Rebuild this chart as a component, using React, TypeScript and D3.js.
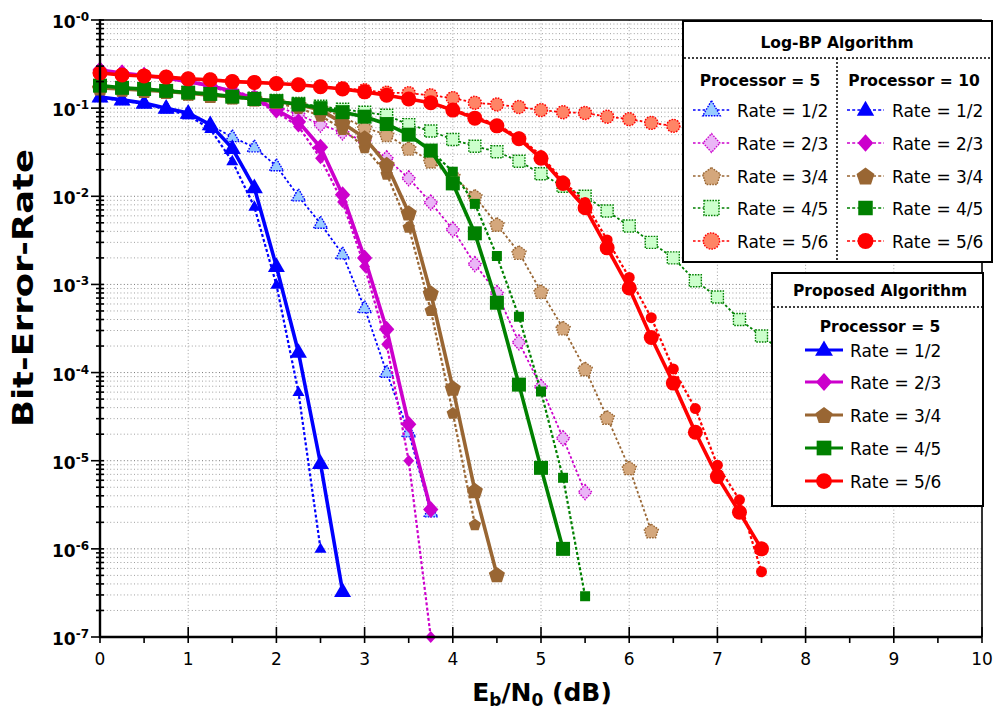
import React from 'react';
import * as d3 from 'd3';

// ---------- data ----------
const snr = [0, 0.25, 0.5, 0.75, 1, 1.25, 1.5, 1.75, 2, 2.25, 2.5, 2.75, 3, 3.25, 3.5, 3.75, 4, 4.25, 4.5, 4.75, 5, 5.25, 5.5, 5.75, 6, 6.25, 6.5, 6.75, 7, 7.25, 7.5, 7.75, 8];
const xTicks = [0, 1, 2, 3, 4, 5, 6, 7, 8, 9, 10];
const yDecades = [0, -1, -2, -3, -4, -5, -6, -7];
const rates = ['1/2', '2/3', '3/4', '4/5', '5/6'];

// Proposed algorithm, processor = 5
const propR12 = [0.134, 0.124, 0.114, 0.1, 0.088, 0.065, 0.035, 0.0125, 1.6e-3, 1.7e-4, 9.3e-6, 3.3e-7];
const propR23 = [0.27, 0.25, 0.235, 0.22, 0.2, 0.18, 0.155, 0.13, 0.095, 0.07, 0.036, 0.0104, 2.0e-3, 3.1e-4, 2.6e-5, 2.8e-6];
const propR34 = [0.17, 0.165, 0.16, 0.155, 0.148, 0.14, 0.135, 0.128, 0.12, 0.11, 0.095, 0.068, 0.046, 0.023, 6.5e-3, 8.0e-4, 6.7e-5, 4.6e-6, 5.1e-7];
const propR45 = [0.18, 0.17, 0.165, 0.157, 0.15, 0.145, 0.135, 0.127, 0.12, 0.11, 0.1, 0.09, 0.08, 0.066, 0.05, 0.033, 0.014, 3.8e-3, 6.2e-4, 7.3e-5, 8.3e-6, 1.0e-6];
const propR56 = [0.25, 0.238, 0.232, 0.225, 0.215, 0.21, 0.2, 0.196, 0.19, 0.184, 0.175, 0.165, 0.153, 0.14, 0.127, 0.115, 0.095, 0.077, 0.063, 0.045, 0.027, 0.014, 7.4e-3, 2.6e-3, 9.1e-4, 2.5e-4, 7.6e-5, 2.1e-5, 6.6e-6, 2.6e-6, 1.0e-6];

// Log-BP, processor = 10
const p10R12 = [0.132, 0.122, 0.112, 0.097, 0.083, 0.058, 0.025, 7.6e-3, 9.9e-4, 6.0e-5, 1.0e-6];
const p10R23 = [0.27, 0.25, 0.235, 0.22, 0.2, 0.175, 0.15, 0.125, 0.09, 0.062, 0.027, 8.6e-3, 1.6e-3, 2.1e-4, 1.0e-5, 1.0e-7];
const p10R34 = [0.17, 0.165, 0.16, 0.155, 0.148, 0.14, 0.133, 0.125, 0.115, 0.1, 0.082, 0.058, 0.036, 0.018, 4.5e-3, 5.1e-4, 3.5e-5, 1.9e-6];
const p10R45 = [0.18, 0.17, 0.165, 0.157, 0.15, 0.145, 0.135, 0.127, 0.12, 0.11, 0.1, 0.09, 0.08, 0.066, 0.05, 0.033, 0.019, 8.2e-3, 2.1e-3, 4.3e-4, 6.1e-5, 6.4e-6, 2.9e-7];
const p10R56 = [0.25, 0.238, 0.232, 0.225, 0.215, 0.21, 0.2, 0.196, 0.19, 0.184, 0.175, 0.165, 0.153, 0.14, 0.127, 0.115, 0.097, 0.08, 0.065, 0.047, 0.029, 0.015, 8.5e-3, 3.2e-3, 1.2e-3, 4.2e-4, 1.1e-4, 3.9e-5, 8.9e-6, 3.6e-6, 5.5e-7];

// Log-BP, processor = 5
const p5R12 = [0.134, 0.124, 0.114, 0.1, 0.086, 0.064, 0.047, 0.036, 0.022, 0.01, 4.9e-3, 2.2e-3, 5.4e-4, 1.0e-4, 2.1e-5, 2.6e-6];
const p5R23 = [0.27, 0.25, 0.235, 0.22, 0.2, 0.18, 0.16, 0.135, 0.105, 0.085, 0.065, 0.053, 0.042, 0.027, 0.016, 8.5e-3, 4.2e-3, 1.7e-3, 8.0e-4, 2.2e-4, 6.9e-5, 1.8e-5, 4.4e-6];
const p5R34 = [0.17, 0.165, 0.16, 0.155, 0.148, 0.14, 0.135, 0.128, 0.12, 0.11, 0.1, 0.08, 0.06, 0.05, 0.035, 0.025, 0.017, 0.01, 4.8e-3, 2.3e-3, 8.3e-4, 3.2e-4, 1.1e-4, 3.1e-5, 8.3e-6, 1.6e-6];
const p5R45 = [0.18, 0.17, 0.165, 0.157, 0.15, 0.145, 0.137, 0.13, 0.122, 0.113, 0.105, 0.097, 0.09, 0.083, 0.065, 0.055, 0.044, 0.037, 0.032, 0.025, 0.018, 0.013, 0.01, 6.8e-3, 4.6e-3, 3.0e-3, 2.0e-3, 1.1e-3, 7.2e-4, 4.0e-4, 2.6e-4, 1.7e-4, 1.1e-4];
const p5R56 = [0.25, 0.238, 0.232, 0.225, 0.215, 0.21, 0.2, 0.196, 0.19, 0.184, 0.175, 0.168, 0.16, 0.15, 0.148, 0.14, 0.13, 0.115, 0.11, 0.103, 0.095, 0.09, 0.088, 0.08, 0.075, 0.068, 0.063, 0.058, 0.054];

const darkColors = ['#0000ff', '#cc00cc', '#996633', '#008000', '#ff0000'];
const lightColors = ['#99ccff', '#eab6f6', '#d4a77c', '#ccffcc', '#ff8466'];
const shapes = ['tri', 'dia', 'pent', 'sq', 'circ'];

// ---------- layout ----------
const W = 993, H = 711;
const X0 = 100, X1 = 982, Y0 = 20, Y1 = 637;
const x = d3.scaleLinear().domain([0, 10]).range([X0, X1]);
const y = d3.scaleLog().domain([1e-7, 1]).range([Y1, Y0]);
const FONT = 'DejaVu Sans, Verdana, sans-serif';

type Style = 'p5' | 'p10' | 'prop';

const sizes: Record<Style, Record<string, number>> = {
  prop: { tri: 17, dia: 8.5, pent: 8.5, sq: 7, circ: 7.5 },
  p10: { tri: 12, dia: 6, pent: 6.5, sq: 5, circ: 5.5 },
  p5: { tri: 14, dia: 7.5, pent: 7.5, sq: 6, circ: 6.5 },
};

function markerPath(shape: string, s: number): string {
  switch (shape) {
    case 'tri': {
      const h = (s * Math.sqrt(3)) / 2;
      return `M0,${-h * 0.62}L${s / 2},${h * 0.38}L${-s / 2},${h * 0.38}Z`;
    }
    case 'dia':
      return `M0,${-s}L${s * 0.9},0L0,${s}L${-s * 0.9},0Z`;
    case 'pent': {
      const pts = d3.range(5).map((k) => {
        const a = -Math.PI / 2 + (k * 2 * Math.PI) / 5;
        return [s * Math.cos(a), s * Math.sin(a) + s * 0.1];
      });
      return 'M' + pts.map((p) => p.join(',')).join('L') + 'Z';
    }
    case 'sq':
      return `M${-s},${-s}h${2 * s}v${2 * s}h${-2 * s}Z`;
    default:
      return `M${s},0A${s},${s} 0 1,1 ${-s},0A${s},${s} 0 1,1 ${s},0Z`;
  }
}

function Marker({ cx, cy, idx, style, scale = 1 }: { cx: number; cy: number; idx: number; style: Style; scale?: number }) {
  const shape = shapes[idx];
  const d = markerPath(shape, sizes[style][shape] * scale);
  if (style === 'p5') {
    return (
      <path d={d} transform={`translate(${cx},${cy})`} fill={lightColors[idx]} stroke={darkColors[idx]}
        strokeWidth={1.4} strokeDasharray="1.6,1.2" />
    );
  }
  return <path d={d} transform={`translate(${cx},${cy})`} fill={darkColors[idx]} stroke="none" />;
}

const lineStyle = (style: Style) =>
  style === 'prop'
    ? { strokeWidth: 3.6, dash: undefined as string | undefined }
    : style === 'p10'
    ? { strokeWidth: 2.2, dash: '3,2.2' }
    : { strokeWidth: 1.8, dash: '2.6,2.2' };

const seriesList: { vals: number[]; idx: number; style: Style }[] = [
  { vals: p5R12, idx: 0, style: 'p5' },
  { vals: p5R23, idx: 1, style: 'p5' },
  { vals: p5R34, idx: 2, style: 'p5' },
  { vals: p5R45, idx: 3, style: 'p5' },
  { vals: p5R56, idx: 4, style: 'p5' },
  { vals: p10R12, idx: 0, style: 'p10' },
  { vals: p10R23, idx: 1, style: 'p10' },
  { vals: p10R34, idx: 2, style: 'p10' },
  { vals: p10R45, idx: 3, style: 'p10' },
  { vals: p10R56, idx: 4, style: 'p10' },
  { vals: propR12, idx: 0, style: 'prop' },
  { vals: propR23, idx: 1, style: 'prop' },
  { vals: propR34, idx: 2, style: 'prop' },
  { vals: propR45, idx: 3, style: 'prop' },
  { vals: propR56, idx: 4, style: 'prop' },
];

const lineGen = d3
  .line<[number, number]>()
  .x((d) => x(d[0]))
  .y((d) => y(d[1]));

function Series({ vals, idx, style }: { vals: number[]; idx: number; style: Style }) {
  const pts: [number, number][] = vals.map((v, i) => [snr[i], v]);
  const ls = lineStyle(style);
  return (
    <g>
      <path d={lineGen(pts) || ''} fill="none" stroke={darkColors[idx]} strokeWidth={ls.strokeWidth}
        strokeDasharray={ls.dash} strokeLinejoin="round" />
      {pts.map((p, i) => (
        <Marker key={i} cx={x(p[0])} cy={y(p[1])} idx={idx} style={style} />
      ))}
    </g>
  );
}

function LegendRow({ x1, x2, cy, tx, idx, style, scale }: { x1: number; x2: number; cy: number; tx: number; idx: number; style: Style; scale: number }) {
  const ls = lineStyle(style);
  return (
    <g>
      <line x1={x1} x2={x2} y1={cy} y2={cy} stroke={darkColors[idx]} strokeWidth={style === 'prop' ? 3.2 : 1.6}
        strokeDasharray={ls.dash} />
      <Marker cx={(x1 + x2) / 2} cy={cy} idx={idx} style={style} scale={scale} />
      <text x={tx} y={cy + 6.5} fontSize={17} fontFamily={FONT} fill="#000">{`Rate = ${rates[idx]}`}</text>
    </g>
  );
}

export default function App() {
  const minor: number[] = [];
  for (let k = -7; k < 0; k++) for (let m = 2; m <= 9; m++) minor.push(m * Math.pow(10, k));
  const xMinor = [0.5, 1.5, 2.5, 3.5, 4.5, 5.5, 6.5, 7.5, 8.5, 9.5];
  const legRows1 = [110, 143, 176, 208, 241];
  const legRows2 = [350, 382, 415, 448, 481];

  return (
    <svg width={W} height={H} style={{ position: 'absolute', left: 0, top: 0, background: '#fff' }}>
      <rect x={0} y={0} width={W} height={H} fill="#fff" />
      {/* grid */}
      <g stroke="#a0a0a0" strokeWidth={1} strokeDasharray="1,2.4">
        {minor.map((v, i) => (
          <line key={'gm' + i} x1={X0} x2={X1} y1={y(v)} y2={y(v)} />
        ))}
        {yDecades.slice(1, 7).map((k) => (
          <line key={'gd' + k} x1={X0} x2={X1} y1={y(Math.pow(10, k))} y2={y(Math.pow(10, k))} stroke="#777" />
        ))}
        {xTicks.slice(1, 10).map((t) => (
          <line key={'gx' + t} x1={x(t)} x2={x(t)} y1={Y0} y2={Y1} />
        ))}
      </g>

      {/* series */}
      {seriesList.map((s, i) => (
        <Series key={i} vals={s.vals} idx={s.idx} style={s.style} />
      ))}

      {/* frame */}
      <line x1={X0} x2={X1} y1={Y0} y2={Y0} stroke="#000" strokeWidth={1.6} />
      <line x1={X1} x2={X1} y1={Y0} y2={Y1} stroke="#000" strokeWidth={1.6} />
      <line x1={X0} x2={X0} y1={Y0 - 1} y2={Y1 + 1} stroke="#000" strokeWidth={2.4} />
      <line x1={X0 - 1} x2={X1} y1={Y1} y2={Y1} stroke="#000" strokeWidth={2.4} />

      {/* ticks */}
      <g stroke="#000" strokeWidth={1.6}>
        {yDecades.map((k) => (
          <line key={'yt' + k} x1={X0 - 9} x2={X0 + 4} y1={y(Math.pow(10, k))} y2={y(Math.pow(10, k))} />
        ))}
        {minor.map((v, i) => (
          <line key={'ym' + i} x1={X0 - 4} x2={X0 + 4} y1={y(v)} y2={y(v)} />
        ))}
        {xTicks.map((t) => (
          <line key={'xt' + t} x1={x(t)} x2={x(t)} y1={Y1 - 10} y2={Y1 + 6} />
        ))}
        {xMinor.map((t) => (
          <line key={'xm' + t} x1={x(t)} x2={x(t)} y1={Y1} y2={Y1 + 6} />
        ))}
      </g>

      {/* y tick labels */}
      {yDecades.map((k) => (
        <text key={'yl' + k} x={89} y={y(Math.pow(10, k)) + 8} textAnchor="end" fontFamily={FONT}
          fontWeight="bold" fontSize={17} fill="#000">
          10<tspan fontSize={12} dy={-7}>{`-${Math.abs(k)}`}</tspan>
        </text>
      ))}
      {/* x tick labels */}
      {xTicks.map((t) => (
        <text key={'xl' + t} x={x(t)} y={665} textAnchor="middle" fontFamily={FONT} fontSize={17} fill="#000">
          {t}
        </text>
      ))}

      {/* axis titles */}
      <text x={542} y={701} textAnchor="middle" fontFamily={FONT} fontWeight="bold" fontSize={25} fill="#000">
        E<tspan fontSize={17} dy={5}>b</tspan>
        <tspan dy={-5}>/N</tspan>
        <tspan fontSize={17} dy={5}>0</tspan>
        <tspan dy={-5}> (dB)</tspan>
      </text>
      <text transform="translate(33,288) rotate(-90)" textAnchor="middle" fontFamily={FONT} fontWeight="bold"
        fontSize={29} fill="#000" textLength={278} lengthAdjust="spacingAndGlyphs">
        Bit-Error-Rate
      </text>

      {/* legend 1 */}
      <g>
        <rect x={683} y={21} width={309} height={241} fill="#fff" stroke="#000" strokeWidth={2} />
        <text x={837} y={48} textAnchor="middle" fontFamily={FONT} fontWeight="bold" fontSize={15.5}>Log-BP Algorithm</text>
        <line x1={684} x2={991} y1={58} y2={58} stroke="#000" strokeWidth={1.5} strokeDasharray="2,2" />
        <line x1={837} x2={837} y1={58} y2={261} stroke="#000" strokeWidth={1.5} strokeDasharray="2,2" />
        <text x={760} y={86} textAnchor="middle" fontFamily={FONT} fontWeight="bold" fontSize={15.5}>Processor = 5</text>
        <text x={914} y={86} textAnchor="middle" fontFamily={FONT} fontWeight="bold" fontSize={15.5}>Processor = 10</text>
        {legRows1.map((cy, i) => (
          <LegendRow key={'a' + i} x1={693} x2={730} cy={cy} tx={737} idx={i} style="p5" scale={1.25} />
        ))}
        {legRows1.map((cy, i) => (
          <LegendRow key={'b' + i} x1={847} x2={884} cy={cy} tx={892} idx={i} style="p10" scale={1.45} />
        ))}
      </g>

      {/* legend 2 */}
      <g>
        <rect x={772} y={273} width={211} height={233} fill="#fff" stroke="#000" strokeWidth={2} />
        <text x={880} y={296} textAnchor="middle" fontFamily={FONT} fontWeight="bold" fontSize={15.5}>Proposed Algorithm</text>
        <line x1={773} x2={982} y1={307} y2={307} stroke="#000" strokeWidth={1.5} strokeDasharray="2,2" />
        <text x={880} y={332} textAnchor="middle" fontFamily={FONT} fontWeight="bold" fontSize={15.5}>Processor = 5</text>
        {legRows2.map((cy, i) => (
          <LegendRow key={'c' + i} x1={805} x2={843} cy={cy} tx={850} idx={i} style="prop" scale={1.05} />
        ))}
      </g>
    </svg>
  );
}
